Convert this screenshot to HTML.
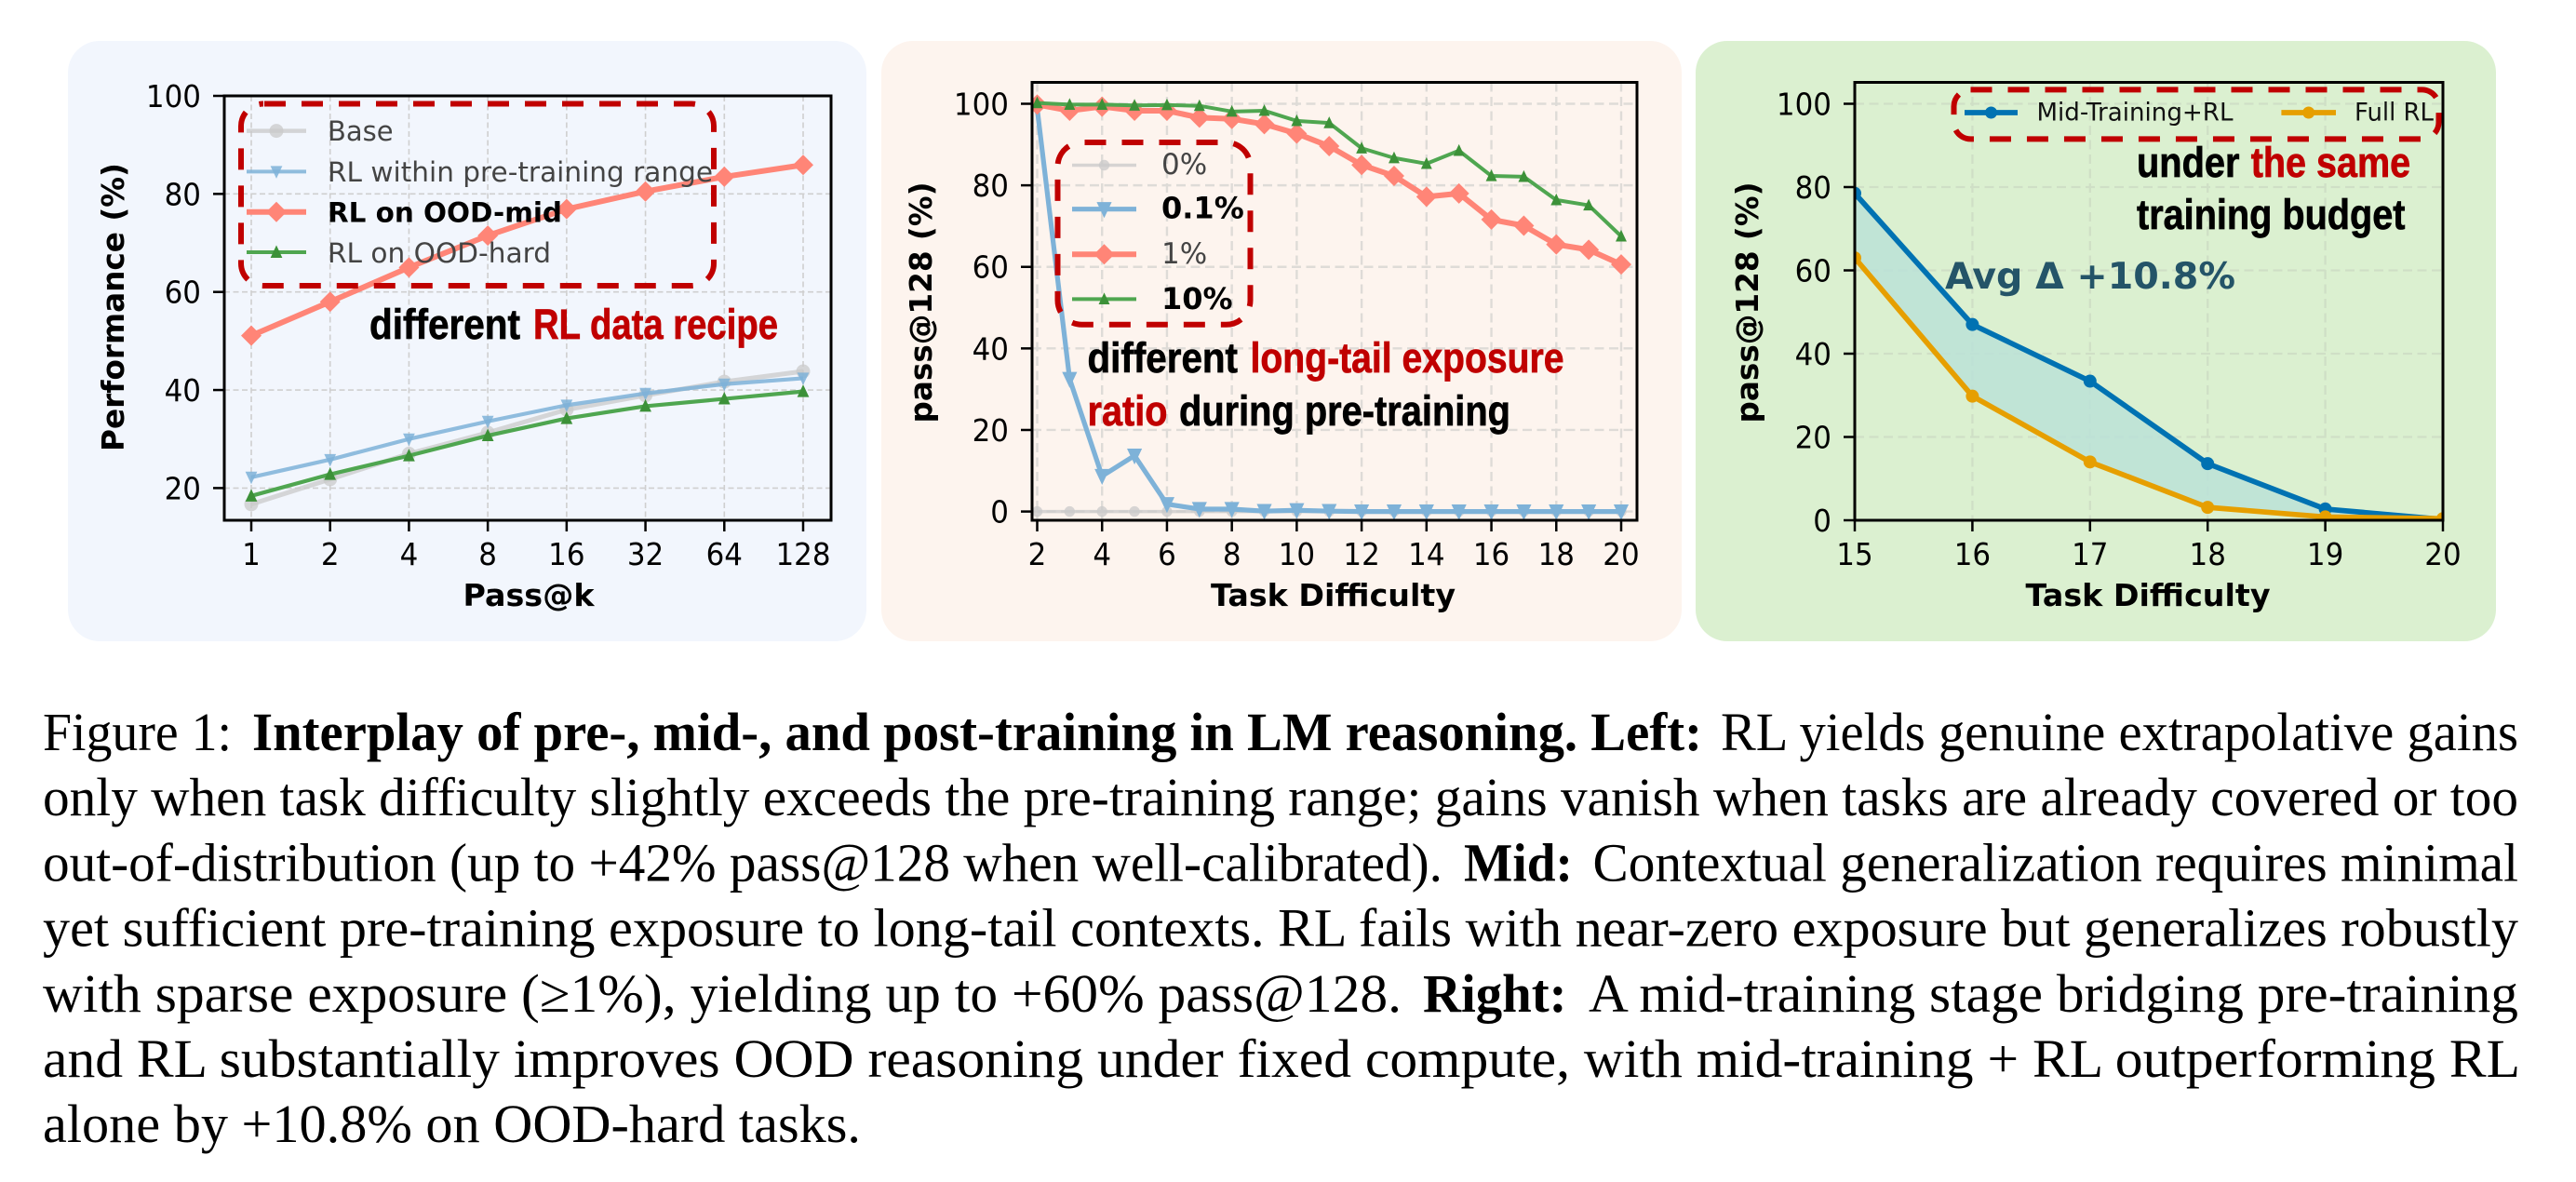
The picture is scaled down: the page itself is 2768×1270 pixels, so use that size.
<!DOCTYPE html>
<html lang="en">
<head>
<meta charset="utf-8">
<title>Figure 1: Interplay of pre-, mid-, and post-training</title>
<style>
html,body{margin:0;padding:0;background:#fff;}
body{width:2768px;height:1270px;overflow:hidden;position:relative;}
svg{position:absolute;left:0;top:0;}
.cap{font-family:"Liberation Serif",serif;font-size:58.2px;fill:#000;}
.capb{font-family:"Liberation Serif",serif;font-size:58.2px;font-weight:bold;fill:#000;}
.tick{font-family:"DejaVu Sans",sans-serif;font-size:33px;fill:#000;}
.axl{font-family:"DejaVu Sans",sans-serif;font-size:33.3px;font-weight:bold;fill:#000;}
.leg{font-family:"DejaVu Sans",sans-serif;}
.note{font-family:"Liberation Sans",sans-serif;font-size:45px;font-weight:bold;stroke-width:0.7px;}
.nk{fill:#000;stroke:#000;}
.nr{fill:#c00000;stroke:#c00000;}
</style>
</head>
<body>
<svg id="fig" width="2768" height="1270" viewBox="0 0 2768 1270" xmlns="http://www.w3.org/2000/svg">
  <rect x="73" y="44" width="858" height="645" rx="34" fill="#f2f6fd"/>
  <rect x="947" y="44" width="860" height="645" rx="34" fill="#fdf4ee"/>
  <rect x="1822" y="44" width="860" height="645" rx="34" fill="#dbf0d0"/>
  <defs>
    <clipPath id="clip1"><rect x="241" y="103" width="652" height="456"/></clipPath>
    <clipPath id="clip2"><rect x="1109" y="88" width="650" height="471"/></clipPath>
    <clipPath id="clip3"><rect x="1993" y="88" width="632" height="471"/></clipPath>
  </defs>
  <g id="p1"></g>
  <g id="p2"></g>
  <g id="p3"></g>

  <rect x="259" y="111.5" width="508" height="195.5" rx="24" fill="none" stroke="#c00000" stroke-width="6" stroke-dasharray="23 17" stroke-dashoffset="-1"/>
  <text class="note nk" y="364" x="397" textLength="162" lengthAdjust="spacingAndGlyphs">different</text>
  <text class="note nr" y="364" x="573" textLength="263" lengthAdjust="spacingAndGlyphs">RL data recipe</text>

  <rect x="1136.5" y="153" width="207" height="195.8" rx="26" fill="none" stroke="#c00000" stroke-width="6" stroke-dasharray="23 17" stroke-dashoffset="-3"/>
  <text class="note nk" y="400" x="1168.5" textLength="161.5" lengthAdjust="spacingAndGlyphs">different</text>
  <text class="note nr" y="400" x="1343.5" textLength="337" lengthAdjust="spacingAndGlyphs">long-tail exposure</text>
  <text class="note nr" y="457" x="1168.5" textLength="86" lengthAdjust="spacingAndGlyphs">ratio</text>
  <text class="note nk" y="457" x="1267" textLength="356" lengthAdjust="spacingAndGlyphs">during pre-training</text>

  <rect x="2099.5" y="96.4" width="521" height="53" rx="18" fill="none" stroke="#c00000" stroke-width="6" stroke-dasharray="23 17"/>
  <text class="note nk" y="190" x="2296" textLength="110.5" lengthAdjust="spacingAndGlyphs">under</text>
  <text class="note nr" y="190" x="2418.7" textLength="171.5" lengthAdjust="spacingAndGlyphs">the same</text>
  <text class="note nk" y="246" x="2296" textLength="288.5" lengthAdjust="spacingAndGlyphs">training budget</text>
  <text x="2090" y="310" font-family="DejaVu Sans, sans-serif" font-size="39" font-weight="bold" fill="#245468" textLength="312" lengthAdjust="spacingAndGlyphs">Avg Δ +10.8%</text>

  <g>
    <text class="cap" x="46" y="806" textLength="203" lengthAdjust="spacingAndGlyphs">Figure 1:</text>
    <text class="capb" x="271" y="806" textLength="1558" lengthAdjust="spacingAndGlyphs">Interplay of pre-, mid-, and post-training in LM reasoning. Left:</text>
    <text class="cap" x="1849" y="806" textLength="857" lengthAdjust="spacingAndGlyphs">RL yields genuine extrapolative gains</text>
    <text class="cap" x="46" y="876.2" textLength="2660" lengthAdjust="spacingAndGlyphs">only when task difficulty slightly exceeds the pre-training range; gains vanish when tasks are already covered or too</text>
    <text class="cap" x="46" y="946.4" textLength="1504" lengthAdjust="spacingAndGlyphs">out-of-distribution (up to +42% pass@128 when well-calibrated).</text>
    <text class="capb" x="1573" y="946.4" textLength="117" lengthAdjust="spacingAndGlyphs">Mid:</text>
    <text class="cap" x="1711.5" y="946.4" textLength="994.5" lengthAdjust="spacingAndGlyphs">Contextual generalization requires minimal</text>
    <text class="cap" x="46" y="1016.6" textLength="2660" lengthAdjust="spacingAndGlyphs">yet sufficient pre-training exposure to long-tail contexts. RL fails with near-zero exposure but generalizes robustly</text>
    <text class="cap" x="46" y="1086.8" textLength="1460" lengthAdjust="spacingAndGlyphs">with sparse exposure (≥1%), yielding up to +60% pass@128.</text>
    <text class="capb" x="1529" y="1086.8" textLength="154.6" lengthAdjust="spacingAndGlyphs">Right:</text>
    <text class="cap" x="1707" y="1086.8" textLength="999" lengthAdjust="spacingAndGlyphs">A mid-training stage bridging pre-training</text>
    <text class="cap" x="46" y="1157" textLength="2662" lengthAdjust="spacingAndGlyphs">and RL substantially improves OOD reasoning under fixed compute, with mid-training + RL outperforming RL</text>
    <text class="cap" x="46" y="1227.2" textLength="879" lengthAdjust="spacingAndGlyphs">alone by +10.8% on OOD-hard tasks.</text>
  </g>
</svg>

<script>
// ---- Left chart data ----
const leftCategories = ['1','2','4','8','16','32','64','128'];
const leftYTicks = [20,40,60,80,100];
const leftBase = [16.7,21.8,27,31.3,36,38.9,41.7,43.8];
const leftWithin = [22.2,25.8,30,33.6,36.9,39.3,41.2,42.4];
const leftMid = [51.1,58,65,71.5,76.9,80.5,83.5,85.9];
const leftHard = [18.4,22.8,26.6,30.7,34.2,36.7,38.2,39.7];

// ---- Middle chart data ----
const midDifficulty = [2,3,4,5,6,7,8,9,10,11,12,13,14,15,16,17,18,19,20];
const midXTicks = [2,4,6,8,10,12,14,16,18,20];
const midYTicks = [0,20,40,60,80,100];
const midZero = [0,0,0,0,0,0,0,0,0,0,0,0,0,0,0,0,0,0,0];
const midPointOne = [98.8,32.5,8.7,13.7,1.8,0.6,0.6,0.1,0.3,0.1,0,0,0,0,0,0,0,0,0];
const midOne = [99.8,98.3,99.3,98.3,98.3,96.6,96.3,95,92.7,89.6,85,82.3,77.2,78,71.6,70.1,65.5,64.2,60.6];
const midTen = [100.2,99.8,99.8,99.6,99.7,99.5,98.1,98.3,95.8,95.3,89.1,86.7,85.3,88.5,82.3,82.1,76.4,75.1,67.5];

// ---- Right chart data ----
const rightDifficulty = [15,16,17,18,19,20];
const rightYTicks = [0,20,40,60,80,100];
const rightMidTraining = [78.5,47,33.4,13.6,2.7,0.2];
const rightFullRL = [63,29.8,14,3.1,0.8,0.4];

const NS = 'http://www.w3.org/2000/svg';
const TICK_GLYPH_WIDTH = 19.7;

function make(parent, tag, attrs, txt) {
  const el = document.createElementNS(NS, tag);
  for (const k in attrs) el.setAttribute(k, attrs[k]);
  if (txt !== undefined) el.textContent = txt;
  parent.appendChild(el);
  return el;
}

// axis-function factory: maps a data domain to a pixel range
function linear(d0, d1, r0, r1) {
  return function (v) { return r0 + (v - d0) * (r1 - r0) / (d1 - d0); };
}

function marker(parent, shape, cx, cy, size, fill, opacity, name) {
  let el;
  const hw = size * 0.85;
  if (shape === 'circle') {
    el = make(parent, 'circle', {cx: cx, cy: cy, r: size, fill: fill, opacity: opacity});
  } else if (shape === 'diamond') {
    el = make(parent, 'polygon', {points: [[cx, cy - size], [cx + size, cy], [cx, cy + size], [cx - size, cy]].join(' '), fill: fill, opacity: opacity});
  } else if (shape === 'down') {
    el = make(parent, 'polygon', {points: [[cx - hw, cy - size * 0.8], [cx + hw, cy - size * 0.8], [cx, cy + size]].join(' '), fill: fill, opacity: opacity});
  } else {
    el = make(parent, 'polygon', {points: [[cx - hw, cy + size * 0.8], [cx + hw, cy + size * 0.8], [cx, cy - size]].join(' '), fill: fill, opacity: opacity});
  }
  
  
  return el;
}

function drawSeries(parent, xs, ys, xScale, yScale, s) {
  const g = make(parent, 'g', {'clip-path': 'url(#' + s.clip + ')'});
  
  
  const pts = ys.map(function (v, i) { return xScale(xs[i]) + ',' + yScale(v); }).join(' ');
  const line = make(g, 'polyline', {points: pts, fill: 'none', stroke: s.color, 'stroke-width': s.width, 'stroke-linejoin': 'round', opacity: s.opacity});
  
  
  ys.forEach(function (v, i) {
    marker(g, s.shape, xScale(xs[i]), yScale(v), s.size, s.markerColor || s.color, s.markerColor ? 1 : s.opacity, s.name + '-point');
  });
}

function tickLabel(parent, x, y, anchor, str, name) {
  const lb = make(parent, 'text', {x: x, y: y, 'text-anchor': anchor, class: 'tick', textLength: str.length * TICK_GLYPH_WIDTH, lengthAdjust: 'spacingAndGlyphs'}, str);
  
  
}

function drawAxes(parent, cfg) {
  const L = cfg.left, R = cfg.right, T = cfg.top, B = cfg.bottom;
  cfg.xTicks.forEach(function (t) {
    const x = cfg.x(t.v);
    const gl = make(parent, 'line', {x1: x, x2: x, y1: T, y2: B, stroke: cfg.gridColor, 'stroke-width': cfg.gridW, 'stroke-dasharray': cfg.gridDash});
    
    
    const tk = make(parent, 'line', {x1: x, x2: x, y1: B, y2: B + 12, stroke: '#000', 'stroke-width': 2.5});
    
    
    tickLabel(parent, x, 607, 'middle', t.label, 'x-tick-label');
  });
  cfg.yTicks.forEach(function (v) {
    const y = cfg.y(v);
    const gl = make(parent, 'line', {x1: L, x2: R, y1: y, y2: y, stroke: cfg.gridColor, 'stroke-width': cfg.gridW, 'stroke-dasharray': cfg.gridDash});
    
    
    const tk = make(parent, 'line', {x1: L - 12, x2: L, y1: y, y2: y, stroke: '#000', 'stroke-width': 2.5});
    
    
    tickLabel(parent, L - 25, y + 12, 'end', String(v), 'y-tick-label');
  });
  const xl = make(parent, 'text', {x: cfg.xLabelX, y: 651, 'text-anchor': 'middle', class: 'axl'}, cfg.xLabel);
  
  
  const yl = make(parent, 'text', {transform: 'translate(' + cfg.yLabelX + ',' + cfg.yLabelY + ') rotate(-90)', 'text-anchor': 'middle', class: 'axl', textLength: cfg.yLabelLen, lengthAdjust: 'spacingAndGlyphs'}, cfg.yLabel);
  
  
}

function drawFrame(parent, cfg) {
  const fr = make(parent, 'rect', {x: cfg.left, y: cfg.top, width: cfg.right - cfg.left, height: cfg.bottom - cfg.top, fill: 'none', stroke: '#000', 'stroke-width': 3});
  
  
}

function legendEntry(parent, e) {
  const g = make(parent, 'g', {});
  
  
  const ln = make(g, 'line', {x1: e.x1, x2: e.x2, y1: e.y, y2: e.y, stroke: e.color, 'stroke-width': e.width, opacity: e.opacity});
  
  
  if (e.shape) {
    marker(g, e.shape, (e.x1 + e.x2) / 2, e.y, e.size, e.markerColor || e.color, e.markerColor ? 1 : e.opacity, 'legend-marker');
  }
  const attrs = {x: e.tx, y: e.ty, class: 'leg', 'font-size': e.fs, 'font-weight': e.bold ? 'bold' : 'normal', fill: e.textColor || (e.bold ? '#000' : '#444')};
  if (e.len) { attrs.textLength = e.len; attrs.lengthAdjust = 'spacingAndGlyphs'; }
  const t = make(g, 'text', attrs, e.label);
  
  
}

const palette = {gray: '#c9c9c9', sky: '#7eb2d8', salmon: '#ff8577', green: '#4fa650', greenMark: '#3c9138', blue: '#0072b2', orange: '#e69f00'};

// ---- Left chart ----
(function () {
  const parent = document.getElementById('p1');
  const idx = leftCategories.map(function (_, i) { return i; });
  const cfg = {
    left: 241, right: 893, top: 103, bottom: 559,
    x: linear(0, leftCategories.length - 1, 270, 863),
    y: linear(20, 100, 524.4, 103),
    xTicks: leftCategories.map(function (c, i) { return {v: i, label: c}; }),
    yTicks: leftYTicks,
    gridW: 1.6, gridDash: '6 3.5', gridColor: '#cfcfcf',
    xLabel: 'Pass@k', xLabelX: 568,
    yLabel: 'Performance (%)', yLabelX: 133, yLabelY: 330, yLabelLen: 310
  };
  drawAxes(parent, cfg);
  drawSeries(parent, idx, leftBase, cfg.x, cfg.y, {name: 'base', clip: 'clip1', color: palette.gray, width: 5, shape: 'circle', size: 7.5, opacity: 0.75});
  drawSeries(parent, idx, leftWithin, cfg.x, cfg.y, {name: 'rl-within-range', clip: 'clip1', color: palette.sky, width: 4.2, shape: 'down', size: 7.5, opacity: 0.85});
  drawSeries(parent, idx, leftMid, cfg.x, cfg.y, {name: 'rl-ood-mid', clip: 'clip1', color: palette.salmon, width: 6, shape: 'diamond', size: 11, opacity: 1});
  drawSeries(parent, idx, leftHard, cfg.x, cfg.y, {name: 'rl-ood-hard', clip: 'clip1', color: palette.green, markerColor: palette.greenMark, width: 4.2, shape: 'up', size: 7.5, opacity: 1});
  drawFrame(parent, cfg);
  legendEntry(parent, {x1: 265, x2: 329, y: 140.6, color: palette.gray, width: 4.5, shape: 'circle', size: 7.5, opacity: 0.75, tx: 352, ty: 151, fs: 29, label: 'Base'});
  legendEntry(parent, {x1: 265, x2: 329, y: 184.4, color: palette.sky, width: 4, shape: 'down', size: 7.5, opacity: 0.85, tx: 352, ty: 195, fs: 29, len: 414, label: 'RL within pre-training range'});
  legendEntry(parent, {x1: 265, x2: 329, y: 227.8, color: palette.salmon, width: 6, shape: 'diamond', size: 11, opacity: 1, tx: 352, ty: 238.6, fs: 29, bold: true, len: 252, label: 'RL on OOD-mid'});
  legendEntry(parent, {x1: 265, x2: 329, y: 271, color: palette.green, markerColor: palette.greenMark, width: 4, shape: 'up', size: 7.5, opacity: 1, tx: 352, ty: 282, fs: 29, len: 240, label: 'RL on OOD-hard'});
})();

// ---- Middle chart ----
(function () {
  const parent = document.getElementById('p2');
  const cfg = {
    left: 1109, right: 1759, top: 88.5, bottom: 559,
    x: linear(2, 20, 1114.5, 1742),
    y: linear(0, 100, 549.6, 111.5),
    xTicks: midXTicks.map(function (v) { return {v: v, label: String(v)}; }),
    yTicks: midYTicks,
    gridW: 2.4, gridDash: '10 5.5', gridColor: '#dedbd7',
    xLabel: 'Task Difficulty', xLabelX: 1432.5,
    yLabel: 'pass@128 (%)', yLabelX: 1001, yLabelY: 325, yLabelLen: 259
  };
  drawAxes(parent, cfg);
  drawSeries(parent, midDifficulty, midZero, cfg.x, cfg.y, {name: 'exposure-0', clip: 'clip2', color: palette.gray, width: 3.5, shape: 'circle', size: 5.7, opacity: 0.75});
  drawSeries(parent, midDifficulty, midPointOne, cfg.x, cfg.y, {name: 'exposure-0-1', clip: 'clip2', color: palette.sky, width: 5.2, shape: 'down', size: 9.5, opacity: 1});
  drawSeries(parent, midDifficulty, midOne, cfg.x, cfg.y, {name: 'exposure-1', clip: 'clip2', color: palette.salmon, width: 6, shape: 'diamond', size: 11, opacity: 1});
  drawSeries(parent, midDifficulty, midTen, cfg.x, cfg.y, {name: 'exposure-10', clip: 'clip2', color: palette.green, markerColor: palette.greenMark, width: 4, shape: 'up', size: 7, opacity: 1});
  drawFrame(parent, cfg);
  legendEntry(parent, {x1: 1152, x2: 1221, y: 177.5, color: palette.gray, width: 3.5, shape: 'circle', size: 5.7, opacity: 0.75, tx: 1248, ty: 187, fs: 31, label: '0%'});
  legendEntry(parent, {x1: 1152, x2: 1221, y: 224.7, color: palette.sky, width: 5.2, shape: 'down', size: 9.5, opacity: 1, tx: 1248, ty: 234.7, fs: 32, bold: true, label: '0.1%'});
  legendEntry(parent, {x1: 1152, x2: 1221, y: 273.3, color: palette.salmon, width: 6, shape: 'diamond', size: 11, opacity: 1, tx: 1248, ty: 283, fs: 31, label: '1%'});
  legendEntry(parent, {x1: 1152, x2: 1221, y: 321.4, color: palette.green, markerColor: palette.greenMark, width: 4, shape: 'up', size: 7, opacity: 1, tx: 1248, ty: 332, fs: 32, bold: true, label: '10%'});
})();

// ---- Right chart ----
(function () {
  const parent = document.getElementById('p3');
  const cfg = {
    left: 1993, right: 2625, top: 88.5, bottom: 559,
    x: linear(15, 20, 1993, 2625),
    y: linear(0, 100, 559, 111.5),
    xTicks: rightDifficulty.map(function (v) { return {v: v, label: String(v)}; }),
    yTicks: rightYTicks,
    gridW: 2.3, gridDash: '10 5.5', gridColor: '#cfdfc6',
    xLabel: 'Task Difficulty', xLabelX: 2308,
    yLabel: 'pass@128 (%)', yLabelX: 1889, yLabelY: 325, yLabelLen: 259
  };
  drawAxes(parent, cfg);
  const top = rightMidTraining.map(function (v, i) { return cfg.x(rightDifficulty[i]) + ',' + cfg.y(v); });
  const bottom = rightFullRL.map(function (v, i) { return cfg.x(rightDifficulty[i]) + ',' + cfg.y(v); }).reverse();
  const band = make(parent, 'polygon', {points: top.concat(bottom).join(' '), fill: '#bbe2d7', opacity: 0.85});
  
  
  drawSeries(parent, rightDifficulty, rightMidTraining, cfg.x, cfg.y, {name: 'mid-training-rl', clip: 'clip3', color: palette.blue, width: 5.7, shape: 'circle', size: 7, opacity: 1});
  drawSeries(parent, rightDifficulty, rightFullRL, cfg.x, cfg.y, {name: 'full-rl', clip: 'clip3', color: palette.orange, width: 5.7, shape: 'circle', size: 7, opacity: 1});
  drawFrame(parent, cfg);
  legendEntry(parent, {x1: 2111, x2: 2168, y: 121, color: palette.blue, width: 5.7, shape: 'circle', size: 6.5, opacity: 1, tx: 2188.5, ty: 129.7, fs: 27, len: 211, textColor: '#111', label: 'Mid-Training+RL'});
  legendEntry(parent, {x1: 2451.4, x2: 2510, y: 121, color: palette.orange, width: 5.7, shape: 'circle', size: 6.5, opacity: 1, tx: 2530, ty: 129.7, fs: 27, len: 85, textColor: '#111', label: 'Full RL'});
})();
</script>
</body>
</html>
